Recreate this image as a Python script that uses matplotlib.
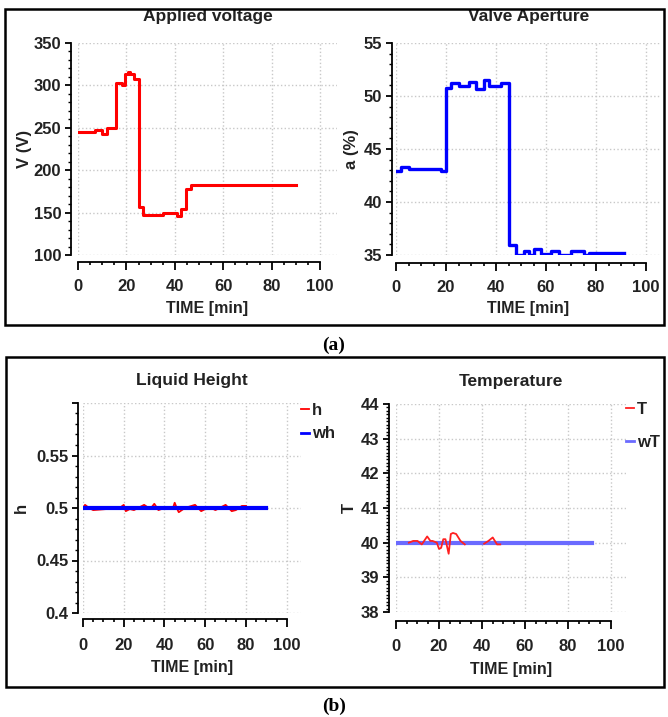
import matplotlib
matplotlib.use('Agg')
import matplotlib.pyplot as plt
from matplotlib.patches import Rectangle
from matplotlib.ticker import MultipleLocator, FixedLocator

W, H = 668, 717

# Applied voltage (step data)
volt_t = [0, 7, 10, 12, 13, 15.5, 18, 19.5, 20.5, 21.5, 23, 25, 27, 35, 41, 42.5, 44.5, 46.5, 90]
volt_v = [245, 247, 243, 250, 250, 303, 300, 313, 316, 313, 307, 157, 147, 149, 146, 154, 178, 183, 183]

# Valve aperture (step data)
valve_t = [0, 2, 5, 18, 20, 22, 25, 29, 32, 35, 37, 42, 45, 48, 51, 53, 55, 58, 62, 65, 70, 75, 77, 91]
valve_a = [42.9, 43.3, 43.1, 42.9, 50.8, 51.2, 50.9, 51.3, 50.7, 51.5, 50.9, 51.2, 35.9, 35.0, 35.4, 35.0,
           35.6, 35.1, 35.4, 35.0, 35.4, 35.0, 35.2, 35.2]

# Liquid height
h_t = [0, 1, 3, 5, 18, 20, 21, 23, 25, 28, 30, 33, 35, 37, 40, 44, 45, 46, 47, 50, 55, 57, 58, 62, 65, 68,
       70, 73, 75, 78, 80]
h_v = [0.5, 0.503, 0.5, 0.498, 0.5, 0.503, 0.497, 0.499, 0.498, 0.501, 0.503, 0.499, 0.504, 0.498, 0.5,
       0.499, 0.505, 0.5, 0.496, 0.5, 0.503, 0.499, 0.497, 0.501, 0.498, 0.501, 0.503, 0.497, 0.498, 0.502,
       0.502]
wh_t = [0, 90]
wh_v = [0.5, 0.5]

# Temperature
T_t = [6, 8, 10, 12, 14.5, 16, 17, 19, 20, 21, 22, 23, 24.5, 25.5, 26.5, 28, 30, 32]
T_v = [40.0, 40.05, 40.05, 39.95, 40.18, 40.05, 40.05, 40.0, 39.82, 39.85, 40.1, 40.1, 39.68, 40.25, 40.28,
       40.25, 40.05, 39.95]
T2_t = [41, 43, 45, 47, 48.5]
T2_v = [39.97, 40.05, 40.15, 39.95, 39.95]
wT_t = [0, 91]
wT_v = [40, 40]

plt.rcParams['font.family'] = ['Liberation Sans', 'DejaVu Sans']
plt.rcParams['font.weight'] = 'bold'

fig = plt.figure(figsize=(W / 100, H / 100), dpi=100)
TXT = '#222222'


def make_ax(x0, y0, x1, y1):
    return fig.add_axes([x0 / W, 1 - y1 / H, (x1 - x0) / W, (y1 - y0) / H])


def style(ax, xmax, left_off, bottom_off, xpad, labpad):
    ax.set_xlim(0, xmax)
    for s in ['top', 'right']:
        ax.spines[s].set_visible(False)
    ax.spines['left'].set_position(('outward', left_off))
    ax.spines['bottom'].set_position(('outward', bottom_off))
    ax.spines['bottom'].set_bounds(0, 100)
    ax.spines['left'].set_linewidth(1.3)
    ax.spines['bottom'].set_linewidth(1.3)
    ax.xaxis.set_major_locator(FixedLocator([0, 20, 40, 60, 80, 100]))
    ax.xaxis.set_minor_locator(FixedLocator([v for v in range(5, 100, 5) if v % 20]))
    ax.tick_params(axis='x', which='major', direction='out', length=6, width=1.3, labelsize=12, pad=xpad)
    ax.tick_params(axis='x', which='minor', direction='out', length=2.5, width=1.2)
    ax.tick_params(axis='y', which='major', direction='out', length=4, width=1.3, labelsize=12, pad=3)
    ax.tick_params(axis='y', which='minor', direction='out', length=2, width=1.0)
    ax.grid(True, which='major', linestyle=':', color='#c8c8c8', linewidth=1.0)
    ax.set_xlabel('TIME [min]', fontsize=11.5, fontweight='bold', labelpad=labpad, color=TXT)
    for lab in ax.get_xticklabels() + ax.get_yticklabels():
        lab.set_fontweight('bold')
        lab.set_color(TXT)


# (a) Applied voltage
ax1 = make_ax(78, 43, 337, 255)
ax1.step(volt_t, volt_v, where='post', color='#ff0000', linewidth=2.2)
ax1.set_ylim(100, 350)
ax1.yaxis.set_major_locator(MultipleLocator(50))
ax1.yaxis.set_minor_locator(MultipleLocator(10))
style(ax1, 107, 5, 5, 6.5, 4.5)
ax1.set_ylabel('V (V)', fontsize=12, fontweight='bold', labelpad=1, color=TXT)
ax1.set_title('Applied voltage', fontsize=12.5, fontweight='bold', pad=16, color=TXT)

# (a) Valve aperture
ax2 = make_ax(396, 43, 661, 255)
ax2.step(valve_t, valve_a, where='post', color='#0000ff', linewidth=2.4)
ax2.set_ylim(35, 55)
ax2.yaxis.set_major_locator(MultipleLocator(5))
ax2.yaxis.set_minor_locator(MultipleLocator(1))
style(ax2, 106, 3, 5.5, 6.5, 4.5)
ax2.set_ylabel('a (%)', fontsize=12, fontweight='bold', labelpad=3, color=TXT)
ax2.set_title('Valve Aperture', fontsize=12.5, fontweight='bold', pad=16, color=TXT)

# (b) Liquid height
ax3 = make_ax(83, 403, 301, 613)
ax3.plot(h_t, h_v, color='#ff0000', linewidth=1.3, label='h')
ax3.plot(wh_t, wh_v, color='#0000ff', linewidth=3.0, label='wh')
ax3.set_ylim(0.4, 0.6)
ax3.yaxis.set_major_locator(FixedLocator([0.4, 0.45, 0.5, 0.55, 0.6]))
ax3.yaxis.set_minor_locator(MultipleLocator(0.01))
ax3.set_yticklabels(['0.4', '0.45', '0.5', '0.55', ''])
style(ax3, 107, 3.6, 4.3, 7.5, 5.5)
ax3.set_ylabel('h', fontsize=12, fontweight='bold', labelpad=5, color=TXT)
ax3.set_title('Liquid Height', fontsize=12.5, fontweight='bold', pad=13, color=TXT)
leg3 = ax3.legend(loc='upper left', bbox_to_anchor=(1.0, 1.0), frameon=False, handlelength=0.5,
                  handletextpad=0.15, labelspacing=0.5, borderpad=0, borderaxespad=0,
                  prop={'size': 12, 'weight': 'bold'})
for t in leg3.get_texts():
    t.set_color(TXT)
leg3.get_lines()[1].set_linewidth(2.0)

# (b) Temperature
ax4 = make_ax(396, 404, 626, 612)
ax4.plot(wT_t, wT_v, color='#6b6bff', linewidth=3.0, label='wT')
ax4.plot(T_t, T_v, color='#ff2020', linewidth=1.3, label='T')
ax4.plot(T2_t, T2_v, color='#ff2020', linewidth=1.3)
ax4.set_ylim(38, 44)
ax4.yaxis.set_major_locator(MultipleLocator(1))
ax4.yaxis.set_minor_locator(MultipleLocator(0.1))
style(ax4, 107, 5, 6.5, 7, 5.5)
ax4.set_ylabel('T', fontsize=12, fontweight='bold', labelpad=3, color=TXT)
ax4.set_title('Temperature', fontsize=12.5, fontweight='bold', pad=13, color=TXT)
hs, ls = ax4.get_legend_handles_labels()
leg4 = ax4.legend(hs[::-1], ls[::-1], loc='upper left', bbox_to_anchor=(1.0, 1.01), frameon=False,
                  handlelength=0.5, handletextpad=0.15, labelspacing=1.1, borderpad=0, borderaxespad=0,
                  prop={'size': 12, 'weight': 'bold'})
for t in leg4.get_texts():
    t.set_color(TXT)
leg4.get_lines()[1].set_linewidth(2.0)

# white strip hiding the top of the panel (a) titles, then panel boxes
fig.patches.append(Rectangle((0, 1 - 9 / H), 1, 9 / H, transform=fig.transFigure,
                             facecolor='white', edgecolor='none', zorder=5))
for (x0, y0, x1, y1) in [(5, 9, 664, 325), (6, 357, 664, 687)]:
    fig.patches.append(Rectangle((x0 / W, 1 - y1 / H), (x1 - x0) / W, (y1 - y0) / H,
                                 transform=fig.transFigure, fill=False, edgecolor='black',
                                 linewidth=1.8, zorder=6))

fig.text(334 / W, 1 - 345 / H, '(a)', ha='center', va='center', fontsize=14, fontweight='bold',
         family='Liberation Serif')
fig.text(334 / W, 1 - 706 / H, '(b)', ha='center', va='center', fontsize=14, fontweight='bold',
         family='Liberation Serif')

fig.savefig('out.png', dpi=100)
